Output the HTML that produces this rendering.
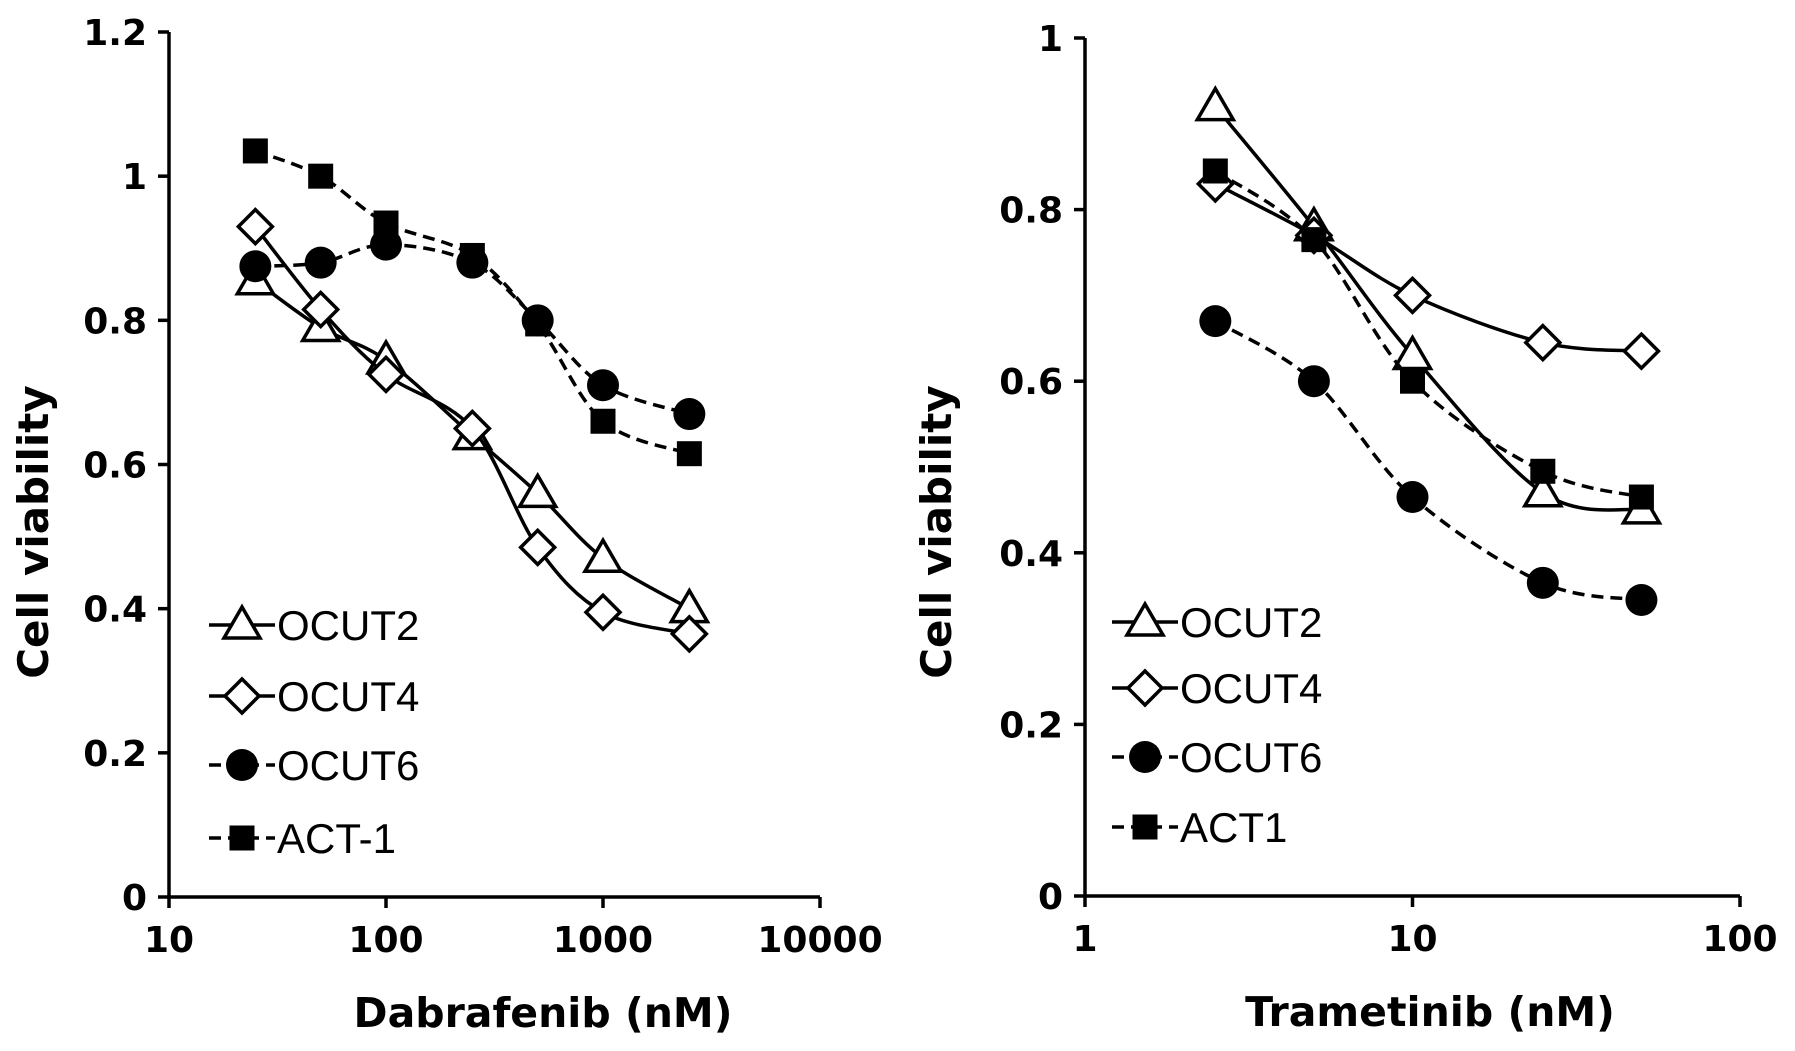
<!DOCTYPE html>
<html><head><meta charset="utf-8"><style>
html,body{margin:0;padding:0;background:#fff;}
svg{display:block;font-family:"Liberation Sans",sans-serif;}
.b{font-family:"DejaVu Sans","Liberation Sans",sans-serif;font-weight:bold;}
</style></head><body>
<svg id="c" width="1795" height="1051" viewBox="0 0 1795 1051"></svg>
<script>
const leftX=[25,50,100,250,500,1000,2500];
const leftOCUT2=[0.855,0.79,0.745,0.64,0.56,0.47,0.40];
const leftOCUT4=[0.93,0.815,0.725,0.65,0.485,0.395,0.365];
const leftOCUT6=[0.875,0.88,0.905,0.88,0.80,0.71,0.67];
const leftACT1=[1.035,1.0,0.935,0.89,0.795,0.66,0.615];
const leftYTicks=[0,0.2,0.4,0.6,0.8,1,1.2];
const leftXTicks=[10,100,1000,10000];
const rightX=[2.5,5,10,25,50];
const rightOCUT2=[0.92,0.78,0.63,0.47,0.45];
const rightOCUT4=[0.83,0.77,0.70,0.645,0.635];
const rightOCUT6=[0.67,0.60,0.465,0.365,0.345];
const rightACT1=[0.845,0.765,0.60,0.495,0.465];
const rightYTicks=[0,0.2,0.4,0.6,0.8,1];
const rightXTicks=[1,10,100];
const leftLegend=["OCUT2","OCUT4","OCUT6","ACT-1"];
const rightLegend=["OCUT2","OCUT4","OCUT6","ACT1"];

const svg=document.getElementById('c');
const NS="http://www.w3.org/2000/svg";
function mk(tag,attrs,parent){const e=document.createElementNS(NS,tag);for(const k in attrs)e.setAttribute(k,attrs[k]);(parent||svg).appendChild(e);return e;}

function marker(g,type,x,y){
  let e;
  if(type==='tri'){e=mk('polygon',{points:`${x},${y-18} ${x-18},${y+13} ${x+18},${y+13}`,fill:'#fff',stroke:'#000','stroke-width':3.5},g);}
  else if(type==='dia'){e=mk('polygon',{points:`${x},${y-17} ${x+17},${y} ${x},${y+17} ${x-17},${y}`,fill:'#fff',stroke:'#000','stroke-width':3.5},g);}
  else if(type==='cir'){e=mk('circle',{cx:x,cy:y,r:16,fill:'#000'},g);}
  else {e=mk('rect',{x:x-12.5,y:y-12.5,width:25,height:25,fill:'#000'},g);}
  
  
}
function smooth(pts){
  let d=`M${pts[0][0]},${pts[0][1]}`;
  for(let i=0;i<pts.length-1;i++){
    const p0=pts[Math.max(0,i-1)],p1=pts[i],p2=pts[i+1],p3=pts[Math.min(pts.length-1,i+2)];
    const c1=[p1[0]+(p2[0]-p0[0])/6,p1[1]+(p2[1]-p0[1])/6];
    const c2=[p2[0]-(p3[0]-p1[0])/6,p2[1]-(p3[1]-p1[1])/6];
    d+=` C${c1[0]},${c1[1]} ${c2[0]},${c2[1]} ${p2[0]},${p2[1]}`;
  }
  return d;
}
function chart(cfg){
  const g=mk('g',{});
  
  
  const sx=v=>cfg.x0+(Math.log10(v)-Math.log10(cfg.xmin))/(Math.log10(cfg.xmax)-Math.log10(cfg.xmin))*(cfg.x1-cfg.x0);
  const sy=v=>cfg.y0-(v/cfg.ymax)*(cfg.y0-cfg.y1);
  const ax=mk('path',{d:`M${cfg.x0},${cfg.y1} V${cfg.y0} H${cfg.x1}`,stroke:'#000','stroke-width':3.5,fill:'none'},g);
  
  
  cfg.yTicks.forEach(t=>{
    const y=sy(t);
    mk('line',{x1:cfg.x0-11,x2:cfg.x0,y1:y,y2:y,stroke:'#000','stroke-width':3.5},g);
    const tx=mk('text',{x:cfg.x0-22,y:y+13,'text-anchor':'end','font-size':36,class:'b'},g);
    tx.textContent=String(t);
    
    
  });
  cfg.xTicks.forEach(t=>{
    const x=sx(t);
    mk('line',{x1:x,x2:x,y1:cfg.y0,y2:cfg.y0+11,stroke:'#000','stroke-width':3.5},g);
    const tx=mk('text',{x:x,y:cfg.y0+55,'text-anchor':'middle','font-size':36,class:'b'},g);
    tx.textContent=String(t);
    
    
  });
  const xt=mk('text',{x:cfg.xTitleX,y:cfg.y0+130,'text-anchor':'middle','font-size':41,class:'b'},g);
  xt.textContent=cfg.xTitle;
  
  
  const yt=mk('text',{x:0,y:0,'text-anchor':'middle','font-size':42,class:'b',transform:`translate(${cfg.yTitleX},532) rotate(-90)`},g);
  yt.textContent='Cell viability';
  
  
  cfg.series.forEach(s=>{
    const sg=mk('g',{},g);
    
    
    const pts=cfg.xs.map((xv,i)=>[sx(xv),sy(s.vals[i])]);
    mk('path',{d:smooth(pts),fill:'none',stroke:'#000','stroke-width':3.5,'stroke-dasharray':s.dash?'12,7':'none'},sg);
    pts.forEach(p=>marker(sg,s.type,p[0],p[1]));
  });
  cfg.series.forEach((s,i)=>{
    const lg=mk('g',{},g);
    
    
    const y=cfg.legY[i];
    mk('line',{x1:cfg.legX,x2:cfg.legX+66,y1:y,y2:y,stroke:'#000','stroke-width':3.5,'stroke-dasharray':s.dash?'12,7':'none'},lg);
    marker(lg,s.type,cfg.legX+33,y);
    const tx=mk('text',{x:cfg.legX+68,y:y+15,'font-size':42},lg);
    tx.textContent=s.label;
  });
}
chart({name:'dabrafenib-chart',x0:169,x1:820,y0:897,y1:32,xmin:10,xmax:10000,ymax:1.2,
  yTicks:leftYTicks,xTicks:leftXTicks,xs:leftX,xTitle:'Dabrafenib (nM)',xTitleX:543,yTitleX:48,
  legX:209,legY:[625,696,765,838],
  series:[{label:leftLegend[0],vals:leftOCUT2,type:'tri',dash:false},
          {label:leftLegend[1],vals:leftOCUT4,type:'dia',dash:false},
          {label:leftLegend[2],vals:leftOCUT6,type:'cir',dash:true},
          {label:leftLegend[3],vals:leftACT1,type:'sq',dash:true}]});
chart({name:'trametinib-chart',x0:1085,x1:1740,y0:896,y1:38,xmin:1,xmax:100,ymax:1,
  yTicks:rightYTicks,xTicks:rightXTicks,xs:rightX,xTitle:'Trametinib (nM)',xTitleX:1430,yTitleX:951,
  legX:1112,legY:[622,688,757,827],
  series:[{label:rightLegend[0],vals:rightOCUT2,type:'tri',dash:false},
          {label:rightLegend[1],vals:rightOCUT4,type:'dia',dash:false},
          {label:rightLegend[2],vals:rightOCUT6,type:'cir',dash:true},
          {label:rightLegend[3],vals:rightACT1,type:'sq',dash:true}]});
</script>
</body></html>
